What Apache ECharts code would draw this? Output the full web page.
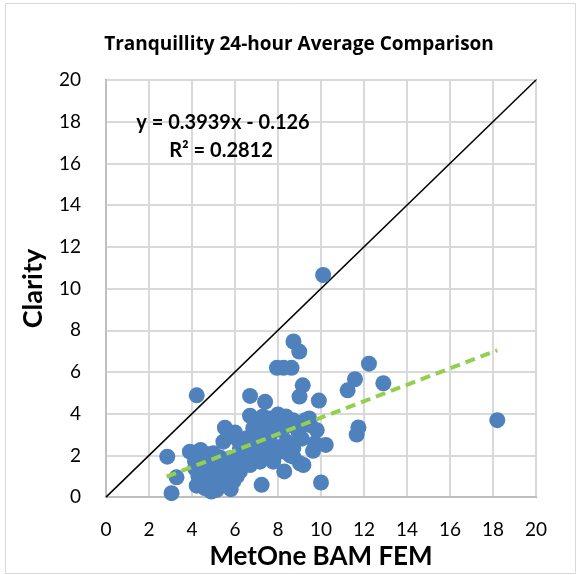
<!DOCTYPE html>
<html>
<head>
<meta charset="utf-8">
<script src="https://cdn.jsdelivr.net/npm/echarts@6/dist/echarts.min.js"></script>
<style>html,body{margin:0;padding:0;background:#fff;}#c{width:577px;height:575px;}</style>
</head>
<body>
<div id="c"></div>
<script>
var chartTitle = 'Tranquillity 24-hour Average Comparison';
var xAxisName = 'MetOne BAM FEM';
var yAxisName = 'Clarity';
var axisTicks = [0, 2, 4, 6, 8, 10, 12, 14, 16, 18, 20];
var equationText = 'y = 0.3939x - 0.126';
var r2Text = 'R² = 0.2812';

var bamX = [10.1, 4.22, 8.72, 8.99, 7.95, 8.26, 8.63, 9.15, 9.0, 9.9,
  11.24, 11.58, 12.23, 12.9, 11.74, 11.66, 18.2, 6.7, 7.4, 6.7,
  5.53, 9.8, 10.22, 9.72, 9.63, 9.45, 10.0, 7.24, 8.29, 2.85,
  3.28, 3.05, 3.9, 4.4, 4.76, 5.46, 5.92, 4.14, 4.22, 4.6,
  4.9, 5.15, 5.8, 4.84, 5.15, 5.53, 5.92, 4.99, 5.77, 5.92,
  9.02, 8.71, 7.78, 7.47, 6.85, 6.39, 6.23, 6.08, 6.7, 7.16,
  6.7, 7.16, 7.63, 8.4, 8.71, 8.87, 9.5, 8.1, 8.56, 6.0,
  6.23, 6.15, 6.54, 6.85, 7.3, 7.78, 7.3, 7.63, 8.0, 8.37,
  8.7, 9.26, 8.95, 9.18, 4.14, 4.3, 4.5, 5.3, 5.6, 4.7,
  5.4, 6.4, 7.0, 7.9, 8.2, 7.5, 5.0, 4.4, 8.5, 9.1];
var clarityY = [10.65, 4.88, 7.46, 6.98, 6.2, 6.2, 6.2, 5.36, 4.82, 4.63,
  5.12, 5.65, 6.4, 5.46, 3.34, 3.0, 3.69, 4.85, 4.57, 3.9,
  3.33, 3.21, 2.5, 2.58, 2.22, 3.77, 0.7, 0.59, 1.23, 1.94,
  0.95, 0.19, 2.18, 2.26, 2.05, 2.66, 2.9, 1.38, 0.55, 0.43,
  0.27, 0.35, 0.38, 1.23, 0.99, 1.23, 1.38, 1.54, 1.86, 0.75,
  1.62, 1.94, 1.7, 2.0, 2.18, 1.7, 1.23, 0.99, 1.54, 1.7,
  2.8, 3.1, 2.97, 2.66, 2.34, 3.3, 3.45, 2.18, 2.0, 3.1,
  2.34, 2.74, 2.82, 3.3, 3.6, 3.53, 3.87, 3.77, 3.96, 3.87,
  3.68, 3.68, 3.14, 1.54, 1.72, 1.0, 1.6, 1.9, 1.6, 0.8,
  0.6, 2.0, 2.5, 2.4, 3.2, 2.6, 2.1, 1.9, 3.5, 2.8];
var trendX = [2.82, 18.2];
var trendY = [0.98, 7.04];
var identityX = [0, 20];
var identityY = [0, 20];

function pairs(xs, ys) { return xs.map(function (v, i) { return [v, ys[i]]; }); }

var font = 'Lato, "Open Sans", sans-serif';
var chart = echarts.init(document.getElementById('c'));
chart.setOption({
  animation: false,
  backgroundColor: '#fff',
  title: {
    text: chartTitle, left: 294, textAlign: 'center', top: 30,
    textStyle: { fontFamily: '"Open Sans", Lato, sans-serif', fontSize: 19, fontWeight: 'bold', color: '#000' }
  },
  grid: { left: 106, right: 41, top: 80, bottom: 76, show: true, borderColor: '#000', borderWidth: 1.5, backgroundColor: 'transparent' },
  xAxis: {
    type: 'value', min: axisTicks[0], max: axisTicks[axisTicks.length - 1], interval: 2,
    name: xAxisName, nameLocation: 'middle', nameGap: 45,
    nameTextStyle: { fontFamily: font, fontSize: 26, fontWeight: 'bold', color: '#000' },
    axisLine: { show: true, lineStyle: { color: '#bfbfbf', width: 2 } },
    axisTick: { show: false },
    axisLabel: { fontFamily: font, fontSize: 19, color: '#000', margin: 23 },
    splitLine: { show: true, lineStyle: { color: '#d9d9d9', width: 2 } }
  },
  yAxis: {
    type: 'value', min: axisTicks[0], max: axisTicks[axisTicks.length - 1], interval: 2,
    name: yAxisName, nameLocation: 'middle', nameGap: 59, nameRotate: 90,
    nameTextStyle: { fontFamily: font, fontSize: 27, fontWeight: 'bold', color: '#000' },
    axisLine: { show: true, lineStyle: { color: '#bfbfbf', width: 2 } },
    axisTick: { show: false },
    axisLabel: { fontFamily: font, fontSize: 19, color: '#000', margin: 25 },
    splitLine: { show: true, lineStyle: { color: '#d9d9d9', width: 2 } }
  },
  series: [
    {
      type: 'line', data: pairs(identityX, identityY), symbol: 'none', silent: true,
      lineStyle: { color: '#000', width: 1.5 }, z: 3
    },
    {
      type: 'scatter', data: pairs(bamX, clarityY), symbolSize: 16,
      itemStyle: { color: '#4F81BD', opacity: 1 }, z: 4
    },
    {
      type: 'line', data: pairs(trendX, trendY), symbol: 'none', silent: true,
      lineStyle: { color: '#92D050', width: 4, type: [10, 6] }, z: 5
    }
  ],
  graphic: [
    { type: 'rect', z: 100, shape: { x: 5.5, y: 3.5, width: 570, height: 570 }, style: { fill: 'none', stroke: '#d9d9d9', lineWidth: 1 }, silent: true },
    { type: 'text', z: 100, x: 223, y: 123, style: { text: equationText, font: 'bold 20px ' + font, fill: '#000', align: 'center', verticalAlign: 'middle' } },
    { type: 'text', z: 100, x: 221, y: 151, style: { text: r2Text, font: 'bold 20px ' + font, fill: '#000', align: 'center', verticalAlign: 'middle' } }
  ]
});
</script>
</body>
</html>
